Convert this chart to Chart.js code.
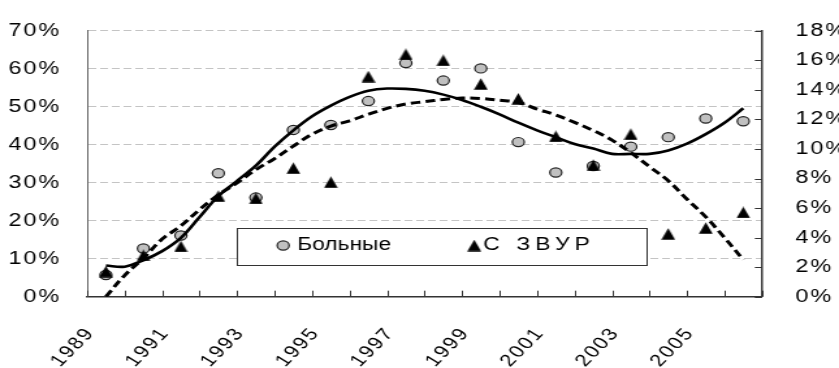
<!DOCTYPE html>
<html lang="ru">
<head>
<meta charset="UTF-8">
<title>Больные и С ЗВУР</title>
<script src="https://cdn.jsdelivr.net/npm/chart.js"></script>
<style>
  html, body { margin: 0; padding: 0; background: #fff; overflow: hidden; }
  /* the source picture is stretched sideways, so the canvas is drawn narrow and widened by css */
  #chart { display: block; width: 839px; height: 368px; }
</style>
</head>
<body>
<canvas id="chart" width="645" height="368" style="width:839px;height:368px"></canvas>
<script>
// categories 1989..2006, labels on every second one
const years = [1989, 1990, 1991, 1992, 1993, 1994, 1995, 1996, 1997, 1998, 1999, 2000, 2001, 2002, 2003, 2004, 2005, 2006];
const yearLabels = ['1989', '1991', '1993', '1995', '1997', '1999', '2001', '2003', '2005'];

// Больные, left axis (%)
const patients = [5.7, 12.7, 16.1, 32.5, 26.1, 43.9, 45.2, 51.5, 61.5, 56.9, 60.1, 40.7, 32.7, 34.4, 39.5, 42.0, 46.9, 46.2];
// С ЗВУР, right axis (%)
const zvur = [1.7, 2.8, 3.4, 6.8, 6.65, 8.7, 7.75, 14.9, 16.4, 16.0, 14.4, 13.4, 10.85, 8.9, 11.0, 4.25, 4.65, 5.7];

// trend curves, at half-category steps
const trendPos = [0, 0.5, 1, 1.5, 2, 2.5, 3, 3.5, 4, 4.5, 5, 5.5, 6, 6.5, 7, 7.5, 8, 8.5, 9, 9.5,
                  10, 10.5, 11, 11.5, 12, 12.5, 13, 13.5, 14, 14.5, 15, 15.5, 16, 16.5, 17];
const patientsTrend = [8.2, 7.9, 9.6, 12.0, 15.5, 21.0, 26.5, 30.5, 34.5, 39.5, 43.8, 47.5, 50.3, 52.6, 54.2, 54.8, 54.7, 54.2, 53.2, 51.8,
                       50.0, 48.0, 45.8, 43.8, 42.0, 40.2, 39.0, 37.6, 37.6, 37.6, 38.5, 40.3, 42.8, 45.8, 49.6];
const zvurTrend = [0.0, 1.45, 2.6, 3.9, 4.8, 5.9, 6.9, 7.7, 8.6, 9.35, 10.2, 11.0, 11.55, 11.9, 12.35, 12.75, 13.05, 13.2, 13.35, 13.45,
                   13.42, 13.3, 13.15, 12.7, 12.3, 11.8, 11.25, 10.6, 9.75, 8.8, 7.85, 6.6, 5.4, 4.0, 2.5];

const leftTicks = [0, 10, 20, 30, 40, 50, 60, 70];
const rightTicks = [0, 2, 4, 6, 8, 10, 12, 14, 16, 18];

const FONT = '"Liberation Sans", Arial, sans-serif';

// excel-like triangle marker, a bit taller than wide
function makeTriangle() {
  const c = document.createElement('canvas');
  c.width = 11; c.height = 12;
  const g = c.getContext('2d');
  g.fillStyle = '#000';
  g.beginPath();
  g.moveTo(5.5, 0.3);
  g.lineTo(10.8, 11.7);
  g.lineTo(0.2, 11.7);
  g.closePath();
  g.fill();
  return c;
}
const tri = makeTriangle();

// category boundaries, where the axis tick marks go
const bounds = years.map((y, i) => i - 0.5).concat([years.length - 0.5]);

const extras = {
  id: 'extras',
  beforeDraw(chart) {
    chart.ctx.letterSpacing = '1.5px';
  },
  afterDraw(chart) {
    const { ctx, scales: { x, y2 } } = chart;
    ctx.save();
    ctx.letterSpacing = '0px';
    ctx.strokeStyle = '#333';
    ctx.lineWidth = 1;
    ctx.beginPath();
    bounds.forEach(b => {
      const px = Math.round(x.getPixelForValue(b)) + 0.5;
      ctx.moveTo(px, x.top);
      ctx.lineTo(px, x.top - 6);
    });
    rightTicks.forEach(v => {
      const py = Math.round(y2.getPixelForValue(v)) + 0.5;
      ctx.moveTo(y2.left, py);
      ctx.lineTo(y2.left - 5.5, py);
    });
    ctx.stroke();

    // legend box inside the plot
    const box = { left: 182, top: 228, width: 315, height: 37 };
    ctx.fillStyle = '#fff';
    ctx.fillRect(box.left, box.top, box.width, box.height);
    ctx.strokeStyle = '#333';
    ctx.strokeRect(box.left + 0.5, box.top + 0.5, box.width, box.height);
    const cy = box.top + 17.5;
    ctx.beginPath();
    ctx.arc(217.7, cy, 4.6, 0, Math.PI * 2);
    ctx.fillStyle = '#c0c0c0';
    ctx.fill();
    ctx.lineWidth = 1.2;
    ctx.strokeStyle = '#222';
    ctx.stroke();
    ctx.drawImage(tri, 364.6 - tri.width / 2, cy - tri.height / 2);
    ctx.fillStyle = '#000';
    ctx.font = '17.5px ' + FONT;
    ctx.textBaseline = 'middle';
    ctx.textAlign = 'left';
    ctx.letterSpacing = '0px';
    ctx.fillText('Больные', 228.5, cy);
    ctx.letterSpacing = '4px';
    ctx.fillText('С ЗВУР', 371.5, cy);
    ctx.restore();
  }
};

new Chart(document.getElementById('chart'), {
  type: 'scatter',
  data: {
    datasets: [
      {
        label: 'Больные (тренд)',
        data: trendPos.map((p, i) => ({ x: p, y: patientsTrend[i] })),
        yAxisID: 'y',
        showLine: true,
        borderColor: '#000',
        borderWidth: 2.6,
        pointRadius: 0,
        tension: 0.35,
        order: 0
      },
      {
        label: 'С ЗВУР (тренд)',
        data: trendPos.map((p, i) => ({ x: p, y: zvurTrend[i] })),
        yAxisID: 'y2',
        showLine: true,
        borderColor: '#000',
        borderWidth: 3,
        borderDash: [7.5, 4],
        pointRadius: 0,
        tension: 0.35,
        order: 0
      },
      {
        label: 'С ЗВУР',
        data: zvur.map((v, i) => ({ x: i, y: v })),
        yAxisID: 'y2',
        pointStyle: tri,
        order: 1
      },
      {
        label: 'Больные',
        data: patients.map((v, i) => ({ x: i, y: v })),
        yAxisID: 'y',
        pointStyle: 'circle',
        pointRadius: 4.6,
        pointBackgroundColor: '#c0c0c0',
        pointBorderColor: '#222',
        pointBorderWidth: 1.2,
        order: 2
      }
    ]
  },
  options: {
    responsive: false,
    animation: false,
    events: [],
    layout: { padding: { top: 21.7, left: 0, right: 0, bottom: 0 } },
    plugins: { legend: { display: false }, tooltip: { enabled: false } },
    scales: {
      x: {
        type: 'linear',
        min: -0.5,
        max: years.length - 0.5,
        afterBuildTicks: s => { s.ticks = bounds.map(b => ({ value: b })); },
        afterFit: s => { s.height = 71.3; },
        grid: { display: false },
        border: { color: '#333', width: 1.5 },
        ticks: {
          autoSkip: false,
          // 52 degrees here reads as 45 once the canvas is widened
          minRotation: 52,
          maxRotation: 52,
          padding: 19,
          labelOffset: 2.5,
          color: '#000',
          font: { family: FONT, size: 17 },
          callback: (v, i) => (i % 2 === 0 && yearLabels[i / 2]) ? yearLabels[i / 2] : ''
        }
      },
      y: {
        position: 'left',
        min: 0,
        max: 70,
        afterBuildTicks: s => { s.ticks = leftTicks.map(v => ({ value: v })); },
        afterFit: s => { s.width = 67; },
        grid: {
          drawTicks: false,
          color: c => c.tick && c.tick.value === 0 ? 'rgba(0,0,0,0)' : '#c4c4c4',
          lineWidth: 1
        },
        border: { color: '#666', width: 1, dash: [6, 3] },
        ticks: {
          padding: 20,
          color: '#000',
          font: { family: FONT, size: 18 },
          callback: v => v + '%'
        }
      },
      y2: {
        position: 'right',
        min: 0,
        max: 18,
        afterBuildTicks: s => { s.ticks = rightTicks.map(v => ({ value: v })); },
        afterFit: s => { s.width = 59.2; },
        grid: { display: false },
        border: { color: '#333', width: 1.5 },
        ticks: {
          padding: 17.7,
          color: '#000',
          font: { family: FONT, size: 18 },
          callback: v => v + '%'
        }
      }
    }
  },
  plugins: [extras]
});
</script>
</body>
</html>
